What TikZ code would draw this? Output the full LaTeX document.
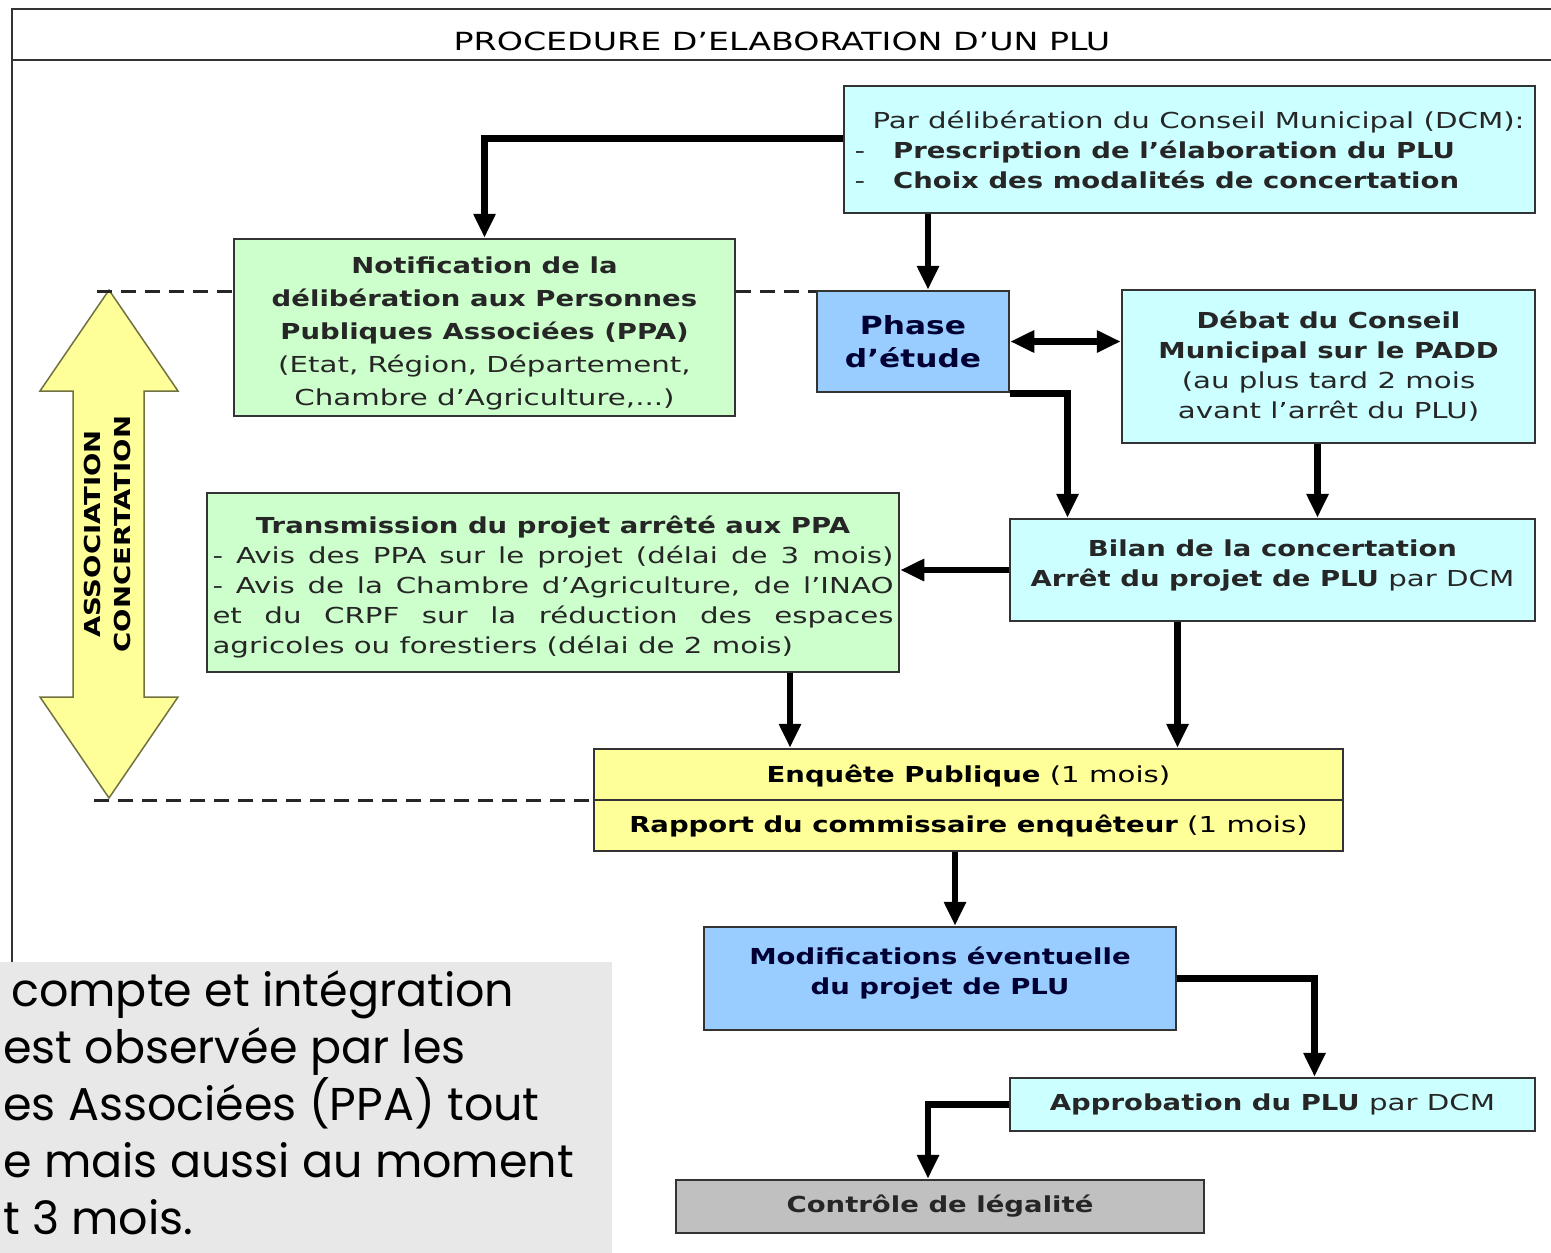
\documentclass[tikz,border=0pt]{standalone}
\usepackage{fontspec}
\setmainfont{DejaVu Sans}[FakeStretch=1.33, BoldFeatures={FakeStretch=1.25}]
\newfontfamily\gothic{Poppins}
\usetikzlibrary{arrows.meta}

\definecolor{cyanfill}{HTML}{CCFFFF}
\definecolor{greenfill}{HTML}{CCFFCC}
\definecolor{bluefill}{HTML}{99CCFF}
\definecolor{yellowfill}{HTML}{FFFF99}
\definecolor{grayfill}{HTML}{C0C0C0}
\definecolor{notefill}{HTML}{E8E8E8}
\definecolor{navy}{HTML}{000033}
\definecolor{olive}{HTML}{707040}

\newcommand{\fsz}[2]{\fontsize{#1}{#2}\selectfont}

\tikzset{
    box/.style={draw=black!80, line width=2.5pt, inner sep=0pt, align=center, font=\fsz{22}{30}, text=black!85},
    cyanbox/.style={box, fill=cyanfill},
    greenbox/.style={box, fill=greenfill},
    bluebox/.style={box, fill=bluefill, text=navy, font=\bfseries\fsz{22}{30}},
    yellowbox/.style={box, fill=yellowfill},
    graybox/.style={box, fill=grayfill},
    flow/.style={line width=6.5pt, -{Triangle[length=24pt,width=21pt]}},
    dflow/.style={line width=6.5pt, {Triangle[length=24pt,width=21pt]}-{Triangle[length=24pt,width=21pt]}},
    guide/.style={line width=3pt, dash pattern=on 15pt off 9pt, black!85}
}

\begin{document}
\begin{tikzpicture}[x=1pt,y=-1pt]

    \useasboundingbox (0,0) rectangle (1551,1253);
    \clip (0,0) rectangle (1551,1253);

    % Cadre et titre
    \draw[line width=2pt, black!80] (12,9) rectangle (1600,1400);
    \draw[line width=2pt, black!80] (12,60) -- (1600,60);
    \node[font=\fsz{25}{30}] (title) at (782,41) {PROCEDURE D’ELABORATION D’UN PLU};

    % Boites
    \node[cyanbox, minimum width=691pt, minimum height=127pt, align=left] (dcm) at (1189.5,149.5)
        {\hspace*{18pt}Par délibération du Conseil Municipal (DCM):\\
         -\hspace{28pt}\textbf{Prescription de l’élaboration du PLU}\\
         -\hspace{28pt}\textbf{Choix des modalités de concertation}};
    \node[greenbox, minimum width=501pt, minimum height=177pt, font=\fsz{22}{33}] (notif) at (484.5,327.5)
        {\raisebox{-6pt}[\height][\depth]{\parbox{490pt}{\centering
         \textbf{Notification de la}\\ \textbf{délibération aux Personnes}\\ \textbf{Publiques Associées (PPA)}\\
         (Etat, Région, Département,\\ Chambre d’Agriculture,...)}}};
    \node[bluebox, minimum width=192pt, minimum height=101pt, font=\bfseries\fsz{25}{33}] (phase) at (913,341.5) {Phase\\d’étude};
    \node[cyanbox, minimum width=413pt, minimum height=153pt] (debat) at (1328.5,366.5)
        {\textbf{Débat du Conseil}\\ \textbf{Municipal sur le PADD}\\ (au plus tard 2 mois\\ avant l’arrêt du PLU)};
    \node[cyanbox, minimum width=525pt, minimum height=102pt] (bilan) at (1272.5,570)
        {\textbf{Bilan de la concertation}\\ \textbf{Arrêt du projet de PLU} par DCM\\[-16pt]};
    \node[greenbox, minimum width=692pt, minimum height=179pt, align=left] (trans) at (553,582.5)
        {\raisebox{-4pt}[\height][\depth]{\parbox{681pt}{\centering\textbf{Transmission du projet arrêté aux PPA}\\
         \makebox[681pt][s]{- Avis des PPA sur le projet (délai de 3 mois)}\\
         \makebox[681pt][s]{- Avis de la Chambre d’Agriculture, de l’INAO}\\
         \makebox[681pt][s]{et du CRPF sur la réduction des espaces}\\
         \makebox[681pt][l]{agricoles ou forestiers (délai de 2 mois)}}}};
    \node[yellowbox, minimum width=749pt, minimum height=102pt] (enq) at (968.5,800) {};
    \draw[line width=2pt, black!80] (enq.west) -- (enq.east);
    \node[font=\fsz{22}{30}] (enqa) at (968.5,776) {\textbf{Enquête Publique} (1 mois)};
    \node[font=\fsz{22}{30}] (enqb) at (968.5,826) {\textbf{Rapport du commissaire enquêteur} (1 mois)};
    \node[bluebox, minimum width=472pt, minimum height=103pt] (modif) at (940,978.5)
        {Modifications éventuelle\\du projet de PLU\\[-14pt]};
    \node[cyanbox, minimum width=525pt, minimum height=53pt] (appro) at (1272.5,1104.5)
        {\textbf{Approbation du PLU} par DCM};
    \node[graybox, minimum width=528pt, minimum height=53pt, font=\bfseries\fsz{22}{30}] (ctrl) at (940,1206.5)
        {Contrôle de légalité};

    % Fleches
    \draw[flow] ([yshift=11pt]dcm.west) -| (notif.north);
    \draw[flow] ([xshift=15pt]phase.north |- dcm.south) -- ([xshift=15pt]phase.north);
    \draw[dflow] (phase.east) -- (phase.east -| debat.west);
    \draw[flow] (phase.south east) -| ([xshift=-205pt]bilan.north);
    \draw[flow] ([xshift=-11pt]debat.south) -- ([xshift=-11pt]debat.south |- bilan.north);
    \draw[flow] (bilan.west) -- (bilan.west -| trans.east);
    \draw[flow] ([xshift=237pt]trans.south) -- ([xshift=237pt]trans.south |- enq.north);
    \draw[flow] ([xshift=-95pt]bilan.south) -- ([xshift=-95pt]bilan.south |- enq.north);
    \draw[flow] ([xshift=15pt]modif.north |- enq.south) -- ([xshift=15pt]modif.north);
    \draw[flow] (modif.east) -| ([xshift=42pt]appro.north);
    \draw[flow] (appro.west) -| ([xshift=-12pt]ctrl.north);

    % Association / concertation
    \draw[fill=yellowfill, draw=olive, line width=1.5pt]
        (109,290) -- (178,391) -- (144,391) -- (144,697) -- (178,697) -- (109,798)
        -- (40,697) -- (73,697) -- (73,391) -- (40,391) -- cycle;
    \node[rotate=90, font=\bfseries\fsz{22}{30}, align=center] (assoc) at (107,534) {ASSOCIATION\\CONCERTATION};
    \coordinate (top) at (97,291);
    \coordinate (bot) at (94,800);
    \draw[guide] (top) -- (top -| notif.west);
    \draw[guide] (top -| notif.east) -- (top -| phase.west);
    \draw[guide] (bot) -- (bot -| enq.west);

    % Note grise
    \fill[notefill] (0,962) rectangle (612,1260);
    \node[anchor=base west, align=left, inner sep=0pt, font=\gothic\fsz{46}{57}] (note) at (3,1234)
        {\hspace*{8pt}compte et intégration\\ est observée par les\\ es Associées (PPA) tout\\
         e mais aussi au moment\\ t 3 mois.};

\end{tikzpicture}
\end{document}
